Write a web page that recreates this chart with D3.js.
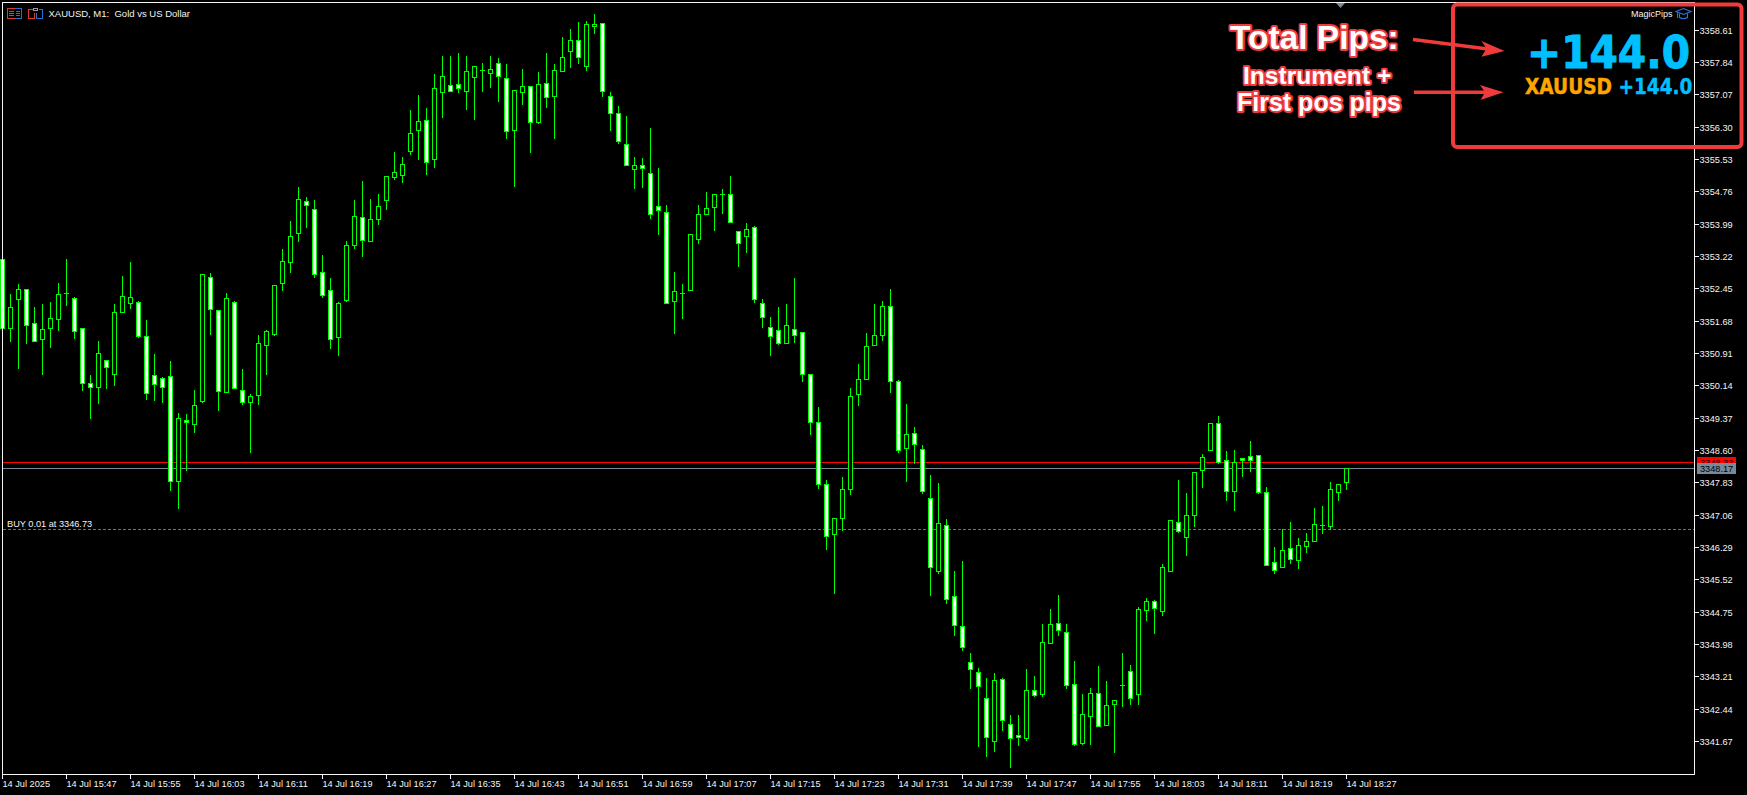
<!DOCTYPE html>
<html><head><meta charset="utf-8">
<style>html,body{margin:0;padding:0;background:#000;overflow:hidden}svg{display:block}text{white-space:pre}</style>
<script src="https://d3js.org/d3.v7.min.js"></script></head>
<body><svg id="c" width="1747" height="795"></svg>
<script>
const openPrices=[3353.16,3351.52,3352.21,3352.45,3351.64,3351.25,3351.52,3351.73,3352.34,3352.23,
3351.52,3350.21,3350.11,3350.76,3350.42,3351.90,3352.11,3352.14,3351.32,3350.39,
3350.32,3350.37,3347.87,3349.33,3349.23,3349.78,3352.73,3351.95,3350.00,3352.14,
3350.03,3349.76,3349.92,3351.11,3351.37,3352.59,3353.09,3353.78,3354.54,3354.35,
3352.85,3352.42,3351.30,3352.18,3353.50,3354.16,3353.59,3354.12,3354.57,3355.12,
3355.16,3355.73,3356.24,3356.47,3355.54,3357.14,3357.30,3357.33,3357.16,3357.50,
3357.66,3357.59,3357.83,3357.47,3356.24,3357.14,3357.28,3356.42,3357.36,3357.05,
3357.64,3358.12,3358.38,3357.76,3358.71,3358.78,3357.05,3356.64,3355.90,3355.31,
3355.40,3355.21,3354.43,3354.28,3352.16,3352.35,3352.42,3353.64,3354.23,3354.40,
3354.70,3354.71,3353.83,3353.71,3353.92,3352.11,3351.54,3351.47,3351.16,3351.50,
3351.42,3350.42,3349.28,3347.80,3346.61,3346.99,3347.68,3349.95,3350.30,3351.11,
3351.35,3352.04,3350.26,3348.66,3349.02,3348.64,3347.47,3345.73,3346.83,3345.14,
3344.42,3343.56,3343.33,3342.71,3341.68,3343.16,3342.09,3341.82,3341.75,3342.90,
3342.80,3344.02,3344.49,3344.28,3343.04,3341.63,3342.28,3342.83,3342.06,3342.56,
3343.02,3343.35,3342.80,3344.80,3345.02,3344.77,3345.73,3346.90,3346.54,3347.06,
3348.14,3348.61,3349.26,3348.37,3347.64,3348.42,3348.47,3348.49,3347.61,3345.95,
3345.83,3346.28,3345.99,3346.33,3346.45,3346.83,3346.80,3347.61,3347.85];
const highPrices=[3353.16,3352.34,3352.58,3352.45,3352.05,3352.12,3352.15,3352.62,3353.19,3352.29,
3351.54,3350.41,3351.22,3350.78,3352.12,3352.77,3353.12,3352.19,3351.72,3350.93,
3350.38,3350.76,3349.52,3349.50,3350.07,3352.80,3352.86,3351.95,3352.38,3352.19,
3350.57,3349.96,3351.38,3351.50,3352.54,3353.41,3354.08,3354.91,3354.65,3354.59,
3353.29,3352.74,3352.17,3353.62,3354.58,3355.04,3354.62,3354.74,3355.16,3355.74,
3355.62,3356.74,3357.10,3356.77,3357.60,3358.03,3358.01,3358.08,3358.03,3357.76,
3357.86,3358.03,3357.98,3357.84,3357.19,3357.70,3357.28,3357.65,3358.08,3357.84,
3358.48,3358.67,3358.84,3358.86,3359.01,3358.78,3357.17,3356.83,3356.60,3355.62,
3355.58,3356.31,3355.36,3354.46,3352.88,3352.58,3353.76,3354.48,3354.77,3354.74,
3354.84,3355.15,3353.83,3354.05,3353.97,3352.22,3351.81,3352.03,3352.12,3352.72,
3351.42,3350.42,3349.65,3347.93,3346.99,3347.98,3350.10,3350.69,3351.42,3352.10,
3352.19,3352.46,3350.30,3349.72,3349.17,3348.76,3348.05,3347.84,3347.00,3345.76,
3345.98,3343.81,3343.45,3343.21,3343.33,3343.21,3342.33,3342.33,3343.42,3343.26,
3344.48,3344.85,3345.19,3344.49,3343.60,3342.83,3342.97,3343.50,3343.14,3342.66,
3343.81,3343.52,3344.90,3345.12,3345.05,3345.91,3346.95,3347.93,3347.60,3348.12,
3348.55,3349.26,3349.45,3348.62,3348.64,3348.45,3348.86,3348.49,3347.76,3346.33,
3346.76,3346.91,3346.54,3346.66,3347.26,3347.29,3347.88,3347.80,3348.18];
const lowPrices=[3351.52,3351.20,3350.56,3351.15,3351.21,3350.42,3351.06,3351.48,3352.06,3351.27,
3350.03,3349.37,3349.72,3350.08,3350.15,3351.90,3351.99,3351.30,3349.82,3349.80,
3349.75,3347.65,3347.22,3348.13,3349.03,3349.76,3351.37,3349.56,3350.00,3350.09,
3349.70,3348.56,3349.70,3350.42,3351.34,3352.42,3352.85,3353.60,3353.93,3352.73,
3352.25,3351.03,3350.87,3352.15,3353.41,3353.23,3353.59,3353.99,3354.36,3355.06,
3354.99,3355.65,3355.53,3355.18,3355.35,3356.54,3357.16,3357.13,3356.73,3356.49,
3357.16,3357.25,3356.92,3356.04,3354.89,3356.85,3355.70,3356.39,3356.78,3356.04,
3357.64,3357.73,3357.82,3357.66,3358.54,3357.04,3356.23,3355.92,3355.40,3354.85,
3354.87,3354.13,3353.75,3352.11,3351.39,3351.75,3352.42,3353.54,3354.23,3353.85,
3354.25,3354.04,3352.99,3353.32,3352.13,3351.53,3350.87,3351.13,3351.16,3351.18,
3350.25,3348.99,3347.70,3346.25,3345.20,3346.70,3347.56,3349.68,3350.30,3351.11,
3351.24,3349.98,3348.56,3347.87,3348.30,3347.58,3345.15,3345.69,3344.96,3344.20,
3343.84,3342.94,3341.55,3341.32,3341.44,3341.94,3341.05,3341.58,3341.70,3342.75,
3342.75,3344.02,3344.20,3342.94,3341.58,3341.60,3341.60,3342.04,3342.06,3341.41,
3342.51,3342.55,3342.57,3344.55,3344.24,3344.69,3345.73,3346.66,3346.12,3346.81,
3347.74,3348.61,3348.30,3347.43,3347.17,3348.00,3348.12,3347.58,3345.87,3345.69,
3345.83,3345.91,3345.81,3346.19,3346.45,3346.64,3346.73,3347.41,3347.67];
const closePrices=[3351.52,3352.02,3352.45,3351.59,3351.21,3351.50,3351.76,3352.33,3352.34,3351.45,
3350.21,3350.11,3350.92,3350.59,3351.90,3352.28,3352.26,3351.32,3349.97,3350.19,
3350.11,3347.87,3349.38,3349.28,3349.68,3352.80,3351.97,3350.02,3352.23,3350.09,
3349.76,3349.90,3351.16,3351.45,3352.54,3353.12,3353.71,3354.59,3354.45,3352.80,
3352.31,3351.26,3352.11,3353.50,3354.19,3353.62,3354.12,3354.43,3355.14,3355.24,
3355.43,3356.16,3356.45,3355.47,3357.24,3357.52,3357.16,3357.24,3357.64,3357.76,
3357.66,3357.69,3357.52,3356.21,3357.19,3357.28,3356.43,3357.33,3357.02,3357.66,
3357.97,3358.38,3357.97,3358.76,3358.76,3357.16,3356.64,3355.97,3355.40,3355.40,
3355.33,3354.23,3354.33,3352.11,3352.40,3352.35,3353.76,3354.23,3354.38,3354.71,
3354.70,3354.04,3353.54,3353.88,3352.21,3351.78,3351.33,3351.15,3351.59,3351.35,
3350.42,3349.28,3347.80,3346.56,3346.99,3347.68,3349.90,3350.30,3351.09,3351.35,
3352.04,3350.26,3348.61,3348.99,3348.76,3347.64,3345.83,3346.87,3345.06,3344.45,
3343.92,3343.40,3342.99,3341.78,3343.13,3342.18,3341.75,3341.78,3342.90,3342.78,
3344.04,3344.47,3344.33,3343.02,3341.61,3342.32,3342.83,3342.04,3342.54,3342.66,
3343.02,3342.71,3344.83,3345.02,3344.85,3345.83,3346.95,3346.68,3347.06,3348.09,
3348.45,3349.26,3348.33,3347.64,3348.33,3348.37,3348.37,3347.61,3345.87,3345.76,
3346.23,3346.02,3346.35,3346.45,3346.85,3346.83,3347.68,3347.80,3348.17];

const priceTicks=[3358.61,3357.84,3357.07,3356.30,3355.53,3354.76,3353.99,3353.22,3352.45,3351.68,3350.91,3350.14,3349.37,3348.60,3347.83,3347.06,3346.29,3345.52,3344.75,3343.98,3343.21,3342.44,3341.67];
const timeTickIndex=[0,8,16,24,32,40,48,56,64,72,80,88,96,104,112,120,128,136,144,152,160,168];
const timeTickLabels=["14 Jul 2025","14 Jul 15:47","14 Jul 15:55","14 Jul 16:03","14 Jul 16:11","14 Jul 16:19","14 Jul 16:27","14 Jul 16:35","14 Jul 16:43","14 Jul 16:51","14 Jul 16:59","14 Jul 17:07","14 Jul 17:15","14 Jul 17:23","14 Jul 17:31","14 Jul 17:39","14 Jul 17:47","14 Jul 17:55","14 Jul 18:03","14 Jul 18:11","14 Jul 18:19","14 Jul 18:27"];
const bidPrice=3348.17, askPrice=3348.33, positionPrice=3346.73;
const positionLabel="BUY 0.01 at 3346.73";
const chartTitle="XAUUSD, M1:  Gold vs US Dollar";

const FONT='"Liberation Sans",Arial,sans-serif';
const AXIS='#f4f4f4', GREEN='#00ff00', RED='#ef3b3b', SKY='#00bfff', ORANGE='#ffa500';
const plot={left:2,top:2,right:1694,bottom:774};

const svg=d3.select('#c');
svg.append('rect').attr('width',1747).attr('height',795).attr('fill','#000');

const x=d3.scaleLinear().domain([0,168]).range([2.5,1346.5]);
const y=d3.scaleLinear().domain([3358.61,3341.67]).range([30.2,741.35]);
const row=v=>Math.round(y(v))+0.5;

const crisp=svg.append('g').attr('shape-rendering','crispEdges');

// price lines behind candles
crisp.append('line').attr('x1',3).attr('x2',plot.right).attr('y1',row(positionPrice)).attr('y2',row(positionPrice))
  .attr('stroke','#00c000').attr('stroke-dasharray','3,2');
crisp.append('line').attr('x1',3).attr('x2',plot.right).attr('y1',row(askPrice)).attr('y2',row(askPrice)).attr('stroke','#ff0000');
crisp.append('line').attr('x1',3).attr('x2',plot.right).attr('y1',row(bidPrice)).attr('y2',row(bidPrice)).attr('stroke','#778899');

// candles
const idx=d3.range(openPrices.length);
const candles=crisp.append('g').selectAll('g').data(idx).join('g');
candles.append('line')
  .attr('x1',i=>x(i)).attr('x2',i=>x(i))
  .attr('y1',i=>row(highPrices[i])).attr('y2',i=>row(lowPrices[i])+0.5)
  .attr('stroke',GREEN);
candles.filter(i=>openPrices[i]!==closePrices[i]).append('rect')
  .attr('x',i=>x(i)-2).attr('width',4)
  .attr('y',i=>row(Math.max(openPrices[i],closePrices[i])))
  .attr('height',i=>Math.max(1,row(Math.min(openPrices[i],closePrices[i]))-row(Math.max(openPrices[i],closePrices[i]))))
  .attr('fill',i=>closePrices[i]>openPrices[i]?'#000':'#fff')
  .attr('stroke',GREEN);
candles.filter(i=>openPrices[i]===closePrices[i]).append('line')
  .attr('x1',i=>x(i)-2.5).attr('x2',i=>x(i)+2.5)
  .attr('y1',i=>row(openPrices[i])).attr('y2',i=>row(openPrices[i]))
  .attr('stroke',GREEN);

// frame
crisp.append('path').attr('fill','none').attr('stroke',AXIS)
  .attr('d',`M${plot.left+.5},${plot.bottom+.5}V${plot.top+.5}H${plot.right+.5}V${plot.bottom+.5}H${plot.left+.5}`);

// axes
const yAxis=d3.axisRight(y).tickValues(priceTicks).tickFormat(d3.format('.2f')).tickSize(4).tickPadding(1).offset(0);
const gy=svg.append('g').attr('transform',`translate(${plot.right+.5},0)`).call(yAxis);
gy.select('.domain').remove();
gy.selectAll('.tick line').attr('stroke',AXIS).attr('shape-rendering','crispEdges');
gy.selectAll('.tick text').attr('fill',AXIS).attr('font-family',FONT).attr('font-size',9.2).attr('dy','0.33em').attr('y',0.5);

const xAxis=d3.axisBottom(x).tickValues(timeTickIndex).tickFormat((d,i)=>timeTickLabels[i]).tickSize(4).tickPadding(2).offset(0);
const gx=svg.append('g').attr('transform',`translate(0,${plot.bottom+.5})`).call(xAxis);
gx.select('.domain').remove();
gx.selectAll('.tick line').attr('stroke',AXIS).attr('shape-rendering','crispEdges');
gx.selectAll('.tick text').attr('fill',AXIS).attr('font-family',FONT).attr('font-size',9.2)
  .attr('text-anchor','start').attr('x',0).attr('y',12).attr('dy',0);

// price tags
const tag=svg.append('g');
tag.append('rect').attr('x',1697).attr('y',457).attr('width',39).attr('height',7).attr('fill','#ff0000').attr('shape-rendering','crispEdges');
tag.append('text').attr('x',1700).attr('y',466).text(d3.format('.2f')(askPrice)).attr('fill','#300').attr('font-family',FONT).attr('font-size',9.2);
tag.append('rect').attr('x',1697).attr('y',463).attr('width',39).attr('height',11).attr('fill','#778899').attr('shape-rendering','crispEdges');
tag.append('text').attr('x',1700).attr('y',472).text(d3.format('.2f')(bidPrice)).attr('fill','#000').attr('font-family',FONT).attr('font-size',9.2);

// position label & title
svg.append('text').attr('x',7).attr('y',526.5).text(positionLabel).attr('fill',AXIS).attr('font-family',FONT).attr('font-size',9.2);
svg.append('text').attr('x',48.5).attr('y',17).text(chartTitle).attr('fill',AXIS).attr('font-family',FONT).attr('font-size',9.5);

// title icons
const ic=svg.append('g').attr('shape-rendering','crispEdges').attr('fill','none');
ic.append('path').attr('stroke','#e03a2e').attr('d','M14.5,8.5H7.5V18.5H14.5M9,11.5H14M9,13.5H14M9,15.5H14');
ic.append('path').attr('stroke','#2a6fd0').attr('d','M14.5,8.5H21.5V18.5H14.5M16,11.5H20M16,13.5H20M16,15.5H20');
ic.append('path').attr('stroke','#e03a2e').attr('d','M33.5,9.5H28.5V18.5H34.5V12.5');
ic.append('path').attr('stroke','#2a6fd0').attr('d','M38.5,9.5H42.5V18.5H36.5V12.5');
ic.append('rect').attr('x',33.5).attr('y',8.5).attr('width',4).attr('height',2).attr('stroke','#999');

// top marker
svg.append('path').attr('d','M1336,3H1345L1340.5,8Z').attr('fill','#778899');

// EA panel
svg.append('text').attr('x',1631).attr('y',17).text('MagicPips').attr('fill','#f4f4f4').attr('font-family',FONT).attr('font-size',9);
const capG=svg.append('g').attr('fill','none').attr('stroke','#2a78e0').attr('stroke-width',1.1);
capG.append('path').attr('d','M1676,11.5L1683.5,8.5L1691,11.5L1683.5,14.5Z');
capG.append('path').attr('d','M1679.5,13.5V17.5Q1683.5,20 1687.5,17.5V13.5M1677.5,12.5V18');

const bold=(t,xp,yp,fs,len,col,sw)=>svg.append('text').attr('x',xp).attr('y',yp).text(t).attr('fill',col)
  .attr('stroke',col).attr('stroke-width',sw)
  .attr('font-family','"DejaVu Sans"').attr('font-weight',700).attr('font-size',fs)
  .attr('textLength',len).attr('lengthAdjust','spacingAndGlyphs');
bold('+144.0',1527,68,44.5,163,SKY,1);
bold('XAUUSD',1525,94.3,22,87,ORANGE,0.5);
bold('+144.0',1618.5,94.3,22,74,SKY,0.4);

// annotations
const note=(t,xp,yp,fs)=>svg.append('text').attr('x',xp).attr('y',yp).text(t)
  .attr('font-family',FONT).attr('font-weight',700).attr('font-size',fs)
  .attr('fill','#fff').attr('stroke',RED).attr('stroke-width',4).attr('stroke-linejoin','round').attr('paint-order','stroke');
note('Total Pips:',1230,49,33.5);
note('Instrument +',1243,84,24.6);
note('First pos pips',1237,111,25);

svg.append('rect').attr('x',1453).attr('y',4.5).attr('width',288.5).attr('height',142.5).attr('rx',4)
  .attr('fill','none').attr('stroke',RED).attr('stroke-width',4);

const arrow=(d)=>svg.append('path').attr('d',d).attr('fill',RED);
svg.append('line').attr('x1',1413).attr('y1',39.5).attr('x2',1488).attr('y2',49).attr('stroke',RED).attr('stroke-width',3.4);
arrow('M1504.5,51L1481.5,41L1486.5,48.5L1481.5,56.7Z');
svg.append('line').attr('x1',1414).attr('y1',92.2).attr('x2',1487).attr('y2',92.2).attr('stroke',RED).attr('stroke-width',3.4);
arrow('M1503.5,92.3L1480,85L1485,92.3L1480.5,100Z');
</script></body></html>
